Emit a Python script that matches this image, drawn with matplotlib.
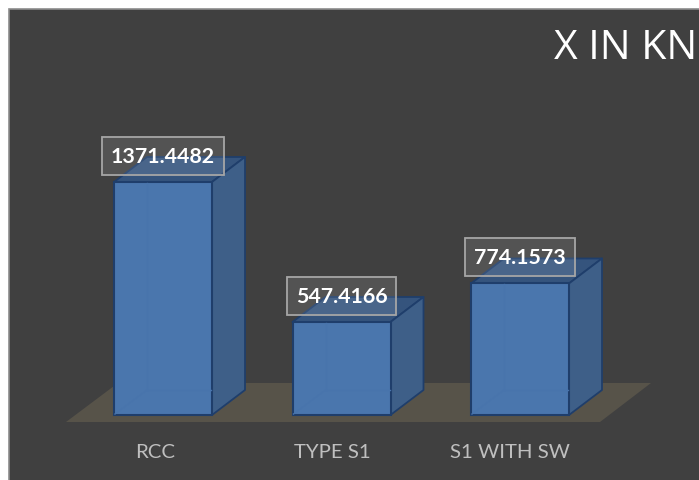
import matplotlib
matplotlib.use("Agg")
import matplotlib.pyplot as plt
from matplotlib.patches import Polygon, Rectangle

categories = ["RCC", "TYPE S1", "S1 WITH SW"]
values = [1371.4482, 547.4166, 774.1573]
labels = ["1371.4482", "547.4166", "774.1573"]
title = "X IN KN"

W, H = 699, 481
X0, DX = 163.0, 178.5      # pixel of category 0, pixels per category
Y0, SY = 416.0, 0.1699     # pixel of value 0, pixels per unit
px = 1 / DX
py = 1 / SY

plt.rcParams["font.family"] = ["Open Sans", "DejaVu Sans"]
fig = plt.figure(figsize=(W / 100, H / 100), dpi=100, facecolor="white")
bg = fig.add_axes([0, 0, 1, 1])
bg.set_xlim(0, W); bg.set_ylim(H, 0); bg.axis("off")
bg.add_patch(Rectangle((8.5, 9.5), W, H, fc="#404040", ec="#8c8c8c", lw=1.2))

ax = fig.add_axes([0, 0, 1, 1], facecolor="none")
ax.set_xlim(-X0 / DX, (W - X0) / DX)
ax.set_ylim(-(H - Y0) / SY, Y0 / SY)
ax.axis("off")

bw = 98 * px
dx = 33 * px
dy = 25 * py
edge = "#1f3e6b"

# floor
ax.add_patch(Polygon([(-97 * px, -7 * py), (437 * px, -7 * py),
                      (488 * px, 32 * py), (-45 * px, 32 * py)],
                     closed=True, fc="#575349", ec="none", zorder=1))

xs = list(range(len(values)))
for x, v in zip(xs, values):
    l, r = x - bw / 2, x + bw / 2
    # top
    ax.add_patch(Polygon([(l, v), (r, v), (r + dx, v + dy), (l + dx, v + dy)],
                         fc="#35547d", ec=edge, lw=1.3, zorder=2, joinstyle="round"))
    # side
    ax.add_patch(Polygon([(r, 0), (r + dx, dy), (r + dx, v + dy), (r, v)],
                         fc="#3e5f88", ec=edge, lw=1.3, zorder=2, joinstyle="round"))

ax.bar(xs, values, width=bw, color="#4a76ad", edgecolor=edge, linewidth=1.5, zorder=3)

# faint inner back edges seen through the translucent front face
for x, v in zip(xs, values):
    l, r = x - bw / 2, x + bw / 2
    ax.plot([l + dx, l + dx], [dy, v - 1 * py], color="#4874ac", lw=1, zorder=4)
    ax.plot([l + dx, r - 1 * px], [dy, dy], color="#4874ac", lw=1, zorder=4)
    ax.plot([l + 1 * px, l + dx], [1 * py, dy], color="#4874ac", lw=1, zorder=4)

# category labels
offs = [-8, -9, -10]
for x, c, o in zip(xs, categories, offs):
    ax.annotate(c, xy=(x, 0), xytext=(o * 0.72, -37 * 0.72),
                textcoords="offset points", ha="center", va="center",
                fontsize=14.7, color="#bfbfbf", family=["Lato", "DejaVu Sans"], zorder=6)

# data labels
for x, v, s in zip(xs, values, labels):
    ax.annotate(s, xy=(x, v), xytext=(0, 26 * 0.72), textcoords="offset points",
                ha="center", va="center", fontsize=15.4, fontweight="bold",
                color="white", family=["Lato", "DejaVu Sans"], zorder=7,
                bbox=dict(boxstyle="square,pad=0.42", fc=(1, 1, 1, 0.10),
                          ec="#a6a6a6", lw=1.3))

fig.text(626 / W, 1 - 49 / H, title, ha="center", va="center", fontsize=29.5,
         color="white", family=["Open Sans", "DejaVu Sans"])

fig.savefig("out.png", dpi=100, facecolor="white")
